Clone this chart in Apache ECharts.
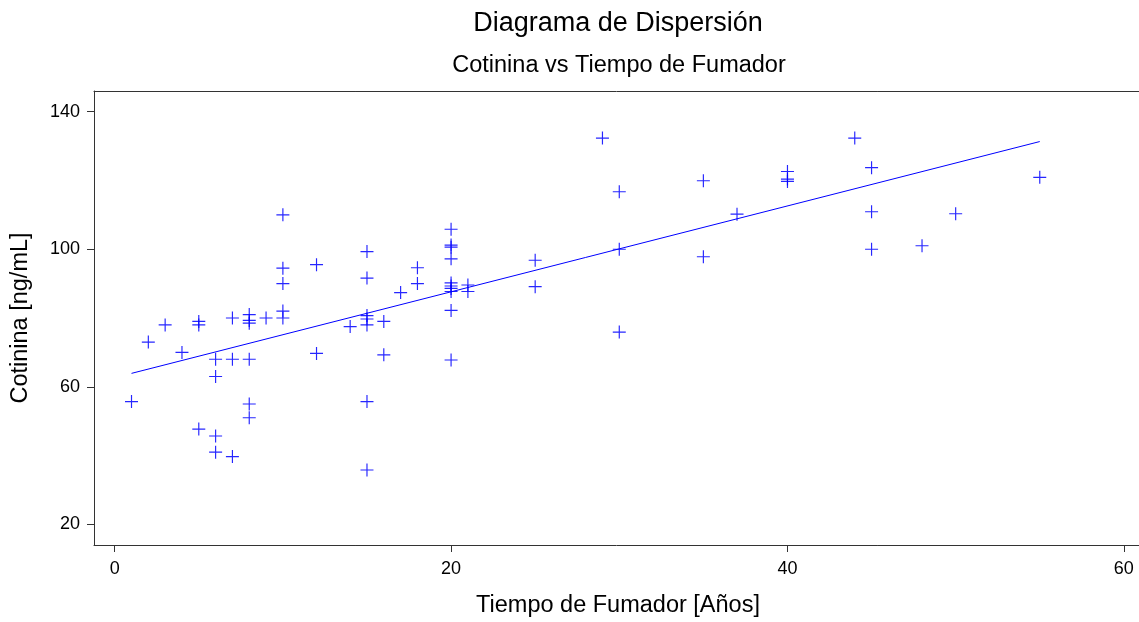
<!DOCTYPE html>
<html>
<head>
<meta charset="utf-8">
<script src="https://cdn.jsdelivr.net/npm/echarts@6/dist/echarts.min.js"></script>
<style>
  html, body { margin: 0; padding: 0; background: #fff; }
  #chart { width: 1139px; height: 622px; }
</style>
</head>
<body>
<div id="chart"></div>
<script>
// years smoking (x) and cotinine (y)
const tiempo = [
  1, 2, 3, 4,
  5, 5, 5,
  6, 6, 6, 6,
  7, 7, 7,
  8, 8, 8, 8, 8, 8,
  9,
  10, 10, 10, 10, 10,
  12, 12, 14,
  15, 15, 15, 15, 15, 15, 15,
  16, 16, 17, 18, 18,
  20, 20, 20, 20, 20, 20, 20, 20, 20, 20,
  21, 21, 25, 25, 29,
  30, 30, 30, 35, 35, 37,
  40, 40, 40, 44,
  45, 45, 45, 48, 50, 55,
]
const cotinina = [
  55.7, 73, 78, 70,
  79, 78, 47.7,
  68, 63, 45.7, 41,
  80, 68, 39.7,
  81, 79.3, 78.5, 68, 55, 51,
  80,
  110, 94.5, 90, 82, 80,
  95.5, 69.7, 77.5,
  99.3, 91.6, 80.7, 79.7, 78, 55.7, 35.8,
  79, 69.3, 87.4, 94.6, 90,
  105.8, 101.2, 100.6, 97.2, 90.2, 89.3, 88.6, 87.7, 82.2, 67.8,
  89.6, 87.7, 96.8, 89.1, 132.3,
  116.7, 100, 75.9, 119.9, 97.8, 110.2,
  122.6, 120.4, 119.7, 132.3,
  123.7, 110.9, 100, 101, 110.3, 120.9,
]
// fitted line end points
const ajusteX = [1, 55]
const ajusteY = [63.9, 131.3]

const xTicks = [0, 20, 40, 60]
const yTicks = [20, 60, 100, 140]

const FONT = 'Liberation Sans, Arial, sans-serif'
const BLUE = '#0000ff'
const AXIS = '#333'
const PLUS = 'path://M-1,-0.09H1V0.09H-1Z M-0.09,-1H0.09V1H-0.09Z'

const chart = echarts.init(document.getElementById('chart'), null, { renderer: 'canvas' })

const puntos = tiempo.map((t, i) => [t, cotinina[i]])
const ajuste = ajusteX.map((t, i) => [t, ajusteY[i]])

const axisLine = { show: true, onZero: false, lineStyle: { color: AXIS, width: 1 } }

chart.setOption({
  animation: false,
  backgroundColor: '#fff',
  textStyle: { fontFamily: FONT },
  // the plot box runs past the right edge of the picture, so no right border
  grid: { left: 94, top: 91, bottom: 77, right: 0 },
  xAxis: [
    {
      type: 'value',
      min: -1.23,
      max: 60.9,
      axisLine,
      axisTick: { show: true, length: 7, customValues: xTicks, lineStyle: { color: AXIS } },
      axisLabel: { customValues: xTicks, margin: 15, color: '#000', fontSize: 18, fontFamily: FONT },
      splitLine: { show: false },
    },
    {
      type: 'value',
      position: 'top',
      min: -1.23,
      max: 60.9,
      axisLine,
      axisTick: { show: false },
      axisLabel: { show: false },
      splitLine: { show: false },
    },
  ],
  yAxis: {
    type: 'value',
    min: 14,
    max: 146,
    axisLine,
    axisTick: { show: true, length: 7, customValues: yTicks, lineStyle: { color: AXIS } },
    axisLabel: { customValues: yTicks, margin: 14, color: '#000', fontSize: 18, fontFamily: FONT },
    splitLine: { show: false },
  },
  graphic: [
    {
      type: 'text', x: 618, y: 24,
      style: { text: 'Diagrama de Dispersión', fill: '#000', font: '27px ' + FONT, textAlign: 'center', textVerticalAlign: 'middle' },
    },
    {
      type: 'text', x: 619, y: 66,
      style: { text: 'Cotinina vs Tiempo de Fumador', fill: '#000', font: '23.5px ' + FONT, textAlign: 'center', textVerticalAlign: 'middle' },
    },
    {
      type: 'text', x: 618, y: 606,
      style: { text: 'Tiempo de Fumador [Años]', fill: '#000', font: '23.5px ' + FONT, textAlign: 'center', textVerticalAlign: 'middle' },
    },
    {
      type: 'text', x: 21, y: 318, rotation: Math.PI / 2,
      style: { text: 'Cotinina [ng/mL]', fill: '#000', font: '23.5px ' + FONT, textAlign: 'center', textVerticalAlign: 'middle' },
    },
  ],
  series: [
    {
      type: 'scatter',
      data: puntos,
      symbol: PLUS,
      symbolSize: 13,
      itemStyle: { color: BLUE, opacity: 0.85 },
      silent: true,
    },
    {
      type: 'line',
      data: ajuste,
      showSymbol: false,
      lineStyle: { color: BLUE, width: 1 },
      silent: true,
    },
  ],
})
</script>
</body>
</html>
